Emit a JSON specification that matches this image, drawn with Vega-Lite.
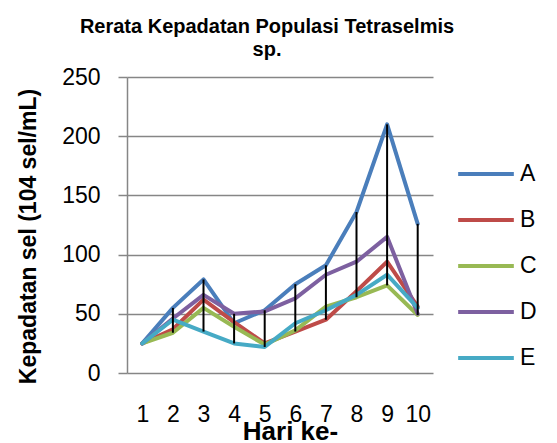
{
  "$schema": "https://vega.github.io/schema/vega-lite/v6.json",
  "width": 306,
  "height": 296,
  "autosize": {"type": "none"},
  "padding": {"left": 127, "top": 77, "right": 124, "bottom": 70},
  "background": "white",
  "config": {
    "font": "Liberation Sans",
    "view": {"stroke": null}
  },
  "title": {
    "text": ["Rerata Kepadatan Populasi Tetraselmis", "sp."],
    "fontSize": 20,
    "fontWeight": "bold",
    "color": "black",
    "anchor": "middle",
    "dx": -13,
    "lineHeight": 23,
    "offset": 6
  },
  "data": {
    "values": [
      {"day": 1, "series": "A", "value": 25},
      {"day": 2, "series": "A", "value": 55},
      {"day": 3, "series": "A", "value": 79},
      {"day": 4, "series": "A", "value": 42},
      {"day": 5, "series": "A", "value": 53},
      {"day": 6, "series": "A", "value": 75},
      {"day": 7, "series": "A", "value": 91},
      {"day": 8, "series": "A", "value": 136},
      {"day": 9, "series": "A", "value": 210},
      {"day": 10, "series": "A", "value": 126},
      {"day": 1, "series": "B", "value": 25},
      {"day": 2, "series": "B", "value": 37},
      {"day": 3, "series": "B", "value": 62},
      {"day": 4, "series": "B", "value": 43},
      {"day": 5, "series": "B", "value": 25},
      {"day": 6, "series": "B", "value": 35},
      {"day": 7, "series": "B", "value": 45},
      {"day": 8, "series": "B", "value": 69},
      {"day": 9, "series": "B", "value": 94},
      {"day": 10, "series": "B", "value": 56},
      {"day": 1, "series": "C", "value": 25},
      {"day": 2, "series": "C", "value": 34},
      {"day": 3, "series": "C", "value": 55},
      {"day": 4, "series": "C", "value": 39},
      {"day": 5, "series": "C", "value": 24},
      {"day": 6, "series": "C", "value": 36},
      {"day": 7, "series": "C", "value": 56},
      {"day": 8, "series": "C", "value": 64},
      {"day": 9, "series": "C", "value": 74},
      {"day": 10, "series": "C", "value": 49},
      {"day": 1, "series": "D", "value": 25},
      {"day": 2, "series": "D", "value": 46},
      {"day": 3, "series": "D", "value": 66},
      {"day": 4, "series": "D", "value": 50},
      {"day": 5, "series": "D", "value": 52},
      {"day": 6, "series": "D", "value": 63},
      {"day": 7, "series": "D", "value": 83},
      {"day": 8, "series": "D", "value": 94},
      {"day": 9, "series": "D", "value": 115},
      {"day": 10, "series": "D", "value": 50},
      {"day": 1, "series": "E", "value": 25},
      {"day": 2, "series": "E", "value": 45},
      {"day": 3, "series": "E", "value": 35},
      {"day": 4, "series": "E", "value": 25},
      {"day": 5, "series": "E", "value": 22},
      {"day": 6, "series": "E", "value": 42},
      {"day": 7, "series": "E", "value": 53},
      {"day": 8, "series": "E", "value": 66},
      {"day": 9, "series": "E", "value": 83},
      {"day": 10, "series": "E", "value": 55}
    ]
  },
  "encoding": {
    "x": {
      "field": "day",
      "type": "ordinal",
      "scale": {"type": "point", "padding": 0.5},
      "axis": {
        "title": "Hari ke-",
        "titleFontSize": 26,
        "titleFontWeight": "bold",
        "titleColor": "black",
        "titleX": 163,
        "titleY": 66,
        "titleBaseline": "alphabetic",
        "titleAlign": "center",
        "labelAngle": 0,
        "labelFontSize": 23,
        "labelColor": "black",
        "labelPadding": 30,
        "labelOverlap": false,
        "ticks": false,
        "domain": false,
        "grid": false
      }
    }
  },
  "layer": [
    {
      "mark": {"type": "line", "strokeWidth": 4, "strokeCap": "round", "strokeJoin": "round"},
      "encoding": {
        "y": {
          "field": "value",
          "type": "quantitative",
          "scale": {"domain": [0, 250], "nice": false, "zero": true},
          "axis": {
            "title": "Kepadatan sel (104 sel/mL)",
            "titleFontSize": 23,
            "titleFontWeight": "bold",
            "titleColor": "black",
            "titleX": -99,
            "titleY": 159,
            "titleAngle": -90,
            "titleAlign": "center",
            "titleBaseline": "middle",
            "values": [0, 50, 100, 150, 200, 250],
            "labelFontSize": 23,
            "labelColor": "black",
            "labelPadding": 18,
            "tickSize": 9,
            "tickColor": "#868686",
            "tickWidth": 1.5,
            "domainColor": "#868686",
            "domainWidth": 1.5,
            "gridColor": "#868686",
            "gridWidth": 1.5
          }
        },
        "color": {
          "field": "series",
          "type": "nominal",
          "scale": {
            "domain": ["A", "B", "C", "D", "E"],
            "range": ["#4A7EBB", "#BE4B48", "#98B954", "#7D60A0", "#46AAC5"]
          },
          "legend": {
            "title": null,
            "orient": "none",
            "legendX": 329,
            "legendY": 67,
            "symbolType": "stroke",
            "symbolStrokeWidth": 4,
            "symbolSize": 3100,
            "labelFontSize": 23,
            "labelColor": "black",
            "labelOffset": 4,
            "rowPadding": 4
          }
        }
      }
    },
    {
      "mark": {"type": "rule", "color": "black", "strokeWidth": 2},
      "encoding": {
        "y": {"aggregate": "min", "field": "value", "type": "quantitative"},
        "y2": {"aggregate": "max", "field": "value"}
      }
    }
  ]
}
